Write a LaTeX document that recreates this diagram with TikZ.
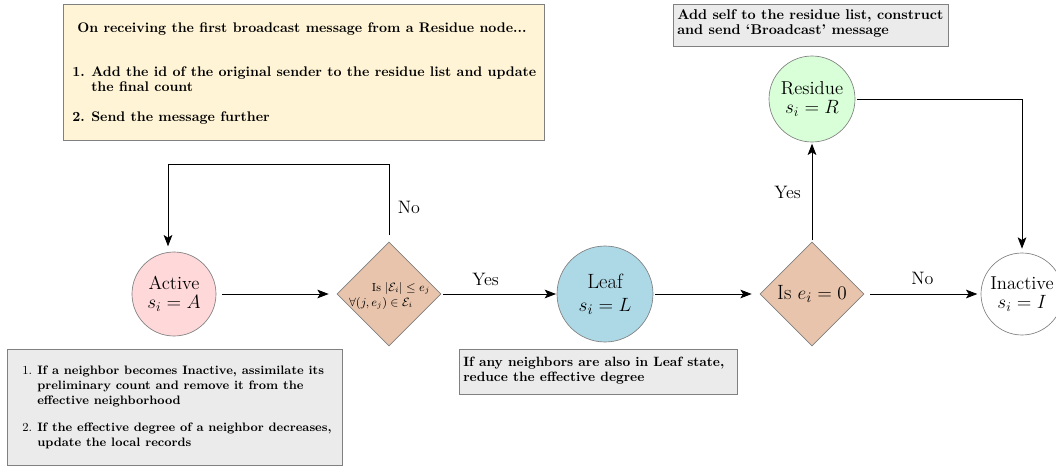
\documentclass[tikz,border=0pt]{standalone}
\usetikzlibrary{shapes.geometric,arrows.meta}
\definecolor{actfill}{RGB}{255,216,218}
\definecolor{decfill}{RGB}{232,196,172}
\definecolor{leaffill}{RGB}{173,216,230}
\definecolor{resfill}{RGB}{216,255,216}
\definecolor{notefill}{RGB}{255,245,214}
\definecolor{boxfill}{RGB}{235,235,235}
\definecolor{edgegray}{RGB}{128,128,128}
\begin{document}
\begin{tikzpicture}[x=0.75pt,y=-0.75pt,
 state/.style={circle,draw=edgegray,line width=0.5pt,inner sep=0pt,align=center,font=\fontsize{14}{14.5}\selectfont},
 decision/.style={diamond,draw=edgegray,fill=decfill,line width=0.5pt,inner sep=0pt,minimum width=78pt,minimum height=78pt,align=center},
 arr/.style={-{Stealth[length=8.5pt,width=6.5pt,inset=2pt]},line width=0.65pt},
 note/.style={draw=edgegray,line width=0.6pt,inner sep=0pt,anchor=north west},
 lbl/.style={inner sep=0pt,font=\fontsize{13.5}{14.5}\selectfont},
 txt/.style={anchor=base west,inner sep=0pt,font=\bfseries\fontsize{10.1}{12}\selectfont},
 toptxt/.style={anchor=base west,inner sep=0pt,font=\bfseries\fontsize{10.6}{12}\selectfont},
 smalltxt/.style={anchor=base west,inner sep=0pt,font=\bfseries\fontsize{9.2}{10}\selectfont},
 numtxt/.style={anchor=base west,inner sep=0pt,font=\fontsize{9.2}{10}\selectfont},
 bigtxt/.style={anchor=base west,inner sep=0pt,font=\bfseries\fontsize{10.45}{12}\selectfont},
 dtxt/.style={inner sep=0pt,font=\fontsize{8.8}{10}\selectfont},
]
\useasboundingbox (0,0) rectangle (1056,467);

% notes
\node[note,fill=notefill,minimum width=360.75pt,minimum height=102pt] (yb) at (63,4) {};
\node[bigtxt] (y0) at (77,33) {On receiving the first broadcast message from a Residue node...};
\node[bigtxt] (y1n) at (72,77) {1.};
\node[bigtxt] (y1a) at (91,77) {Add the id of the original sender to the residue list and update};
\node[bigtxt] (y1b) at (91,92) {the final count};
\node[bigtxt] (y2n) at (72,121) {2.};
\node[bigtxt] (y2a) at (91,121) {Send the message further};

\node[note,fill=boxfill,minimum width=206.25pt,minimum height=31.5pt] (tb) at (673,4) {};
\node[toptxt] (t1) at (677,20) {Add self to the residue list, construct};
\node[toptxt] (t2) at (677,35) {and send `Broadcast' message};

\node[note,fill=boxfill,minimum width=251.25pt,minimum height=87pt] (lb) at (7,349) {};
\node[numtxt] (l1n) at (22,374) {1.};
\node[smalltxt] (l1a) at (37,374) {If a neighbor becomes Inactive, assimilate its};
\node[smalltxt] (l1b) at (37,389) {preliminary count and remove it from the};
\node[smalltxt] (l1c) at (37,404) {effective neighborhood};
\node[numtxt] (l2n) at (22,431) {2.};
\node[smalltxt] (l2a) at (37,431) {If the effective degree of a neighbor decreases,};
\node[smalltxt] (l2b) at (37,446) {update the local records};

\node[note,fill=boxfill,minimum width=208.5pt,minimum height=33.75pt] (mb) at (459,349) {};
\node[txt] (m1) at (463,366) {If any neighbors are also in Leaf state,};
\node[txt] (m2) at (463,381) {reduce the effective degree};

% states
\node[state,fill=actfill,minimum size=63pt] (act) at (174,294) {Active\\$s_i = A$};
\node[decision] (d1) at (389,294) {};
\node[dtxt] (d1a) at (401,288) {Is $|\mathcal{E}_i| \leq e_j$};
\node[dtxt] (d1b) at (381,303) {$\forall (j, e_j) \in \mathcal{E}_i$};
\node[state,fill=leaffill,minimum size=72pt,font=\fontsize{15.5}{17}\selectfont] (leaf) at (605,294) {Leaf\\$s_i = L$};
\node[decision,font=\fontsize{15.5}{17}\selectfont] (d2) at (812,294) {Is $e_i = 0$};
\node[state,fill=resfill,minimum size=64.5pt] (res) at (812,99) {Residue\\$s_i = R$};
\node[state,fill=white,minimum size=61.5pt] (ina) at (1022,294) {Inactive\\$s_i = I$};

% connectors
\draw[arr,shorten <=4.5pt,shorten >=6pt] (act) -- (d1);
\draw[arr,shorten <=1.5pt,shorten >=0.5pt] (d1) -- node[lbl,above=6pt,xshift=-10pt] (yes1) {Yes} (leaf);
\draw[arr,shorten <=1.5pt,shorten >=6pt] (leaf) -- (d2);
\draw[arr,shorten <=4.5pt,shorten >=2.5pt] (d2) -- node[lbl,above=7pt] (no2) {No} (ina);
\draw[arr,shorten <=1pt,shorten >=1pt] (d2) -- node[lbl,left=8pt] (yes2) {Yes} (res);
\draw[arr,shorten <=1.5pt,shorten >=3pt] (res.east) -| (ina.north);
\draw[arr,shorten <=5pt,shorten >=4pt] (d1.north) -- ++(0,-77) -| ([xshift=-4.5pt]act.north);
\node[lbl] (no1) at (409,207) {No};
\end{tikzpicture}
\end{document}
